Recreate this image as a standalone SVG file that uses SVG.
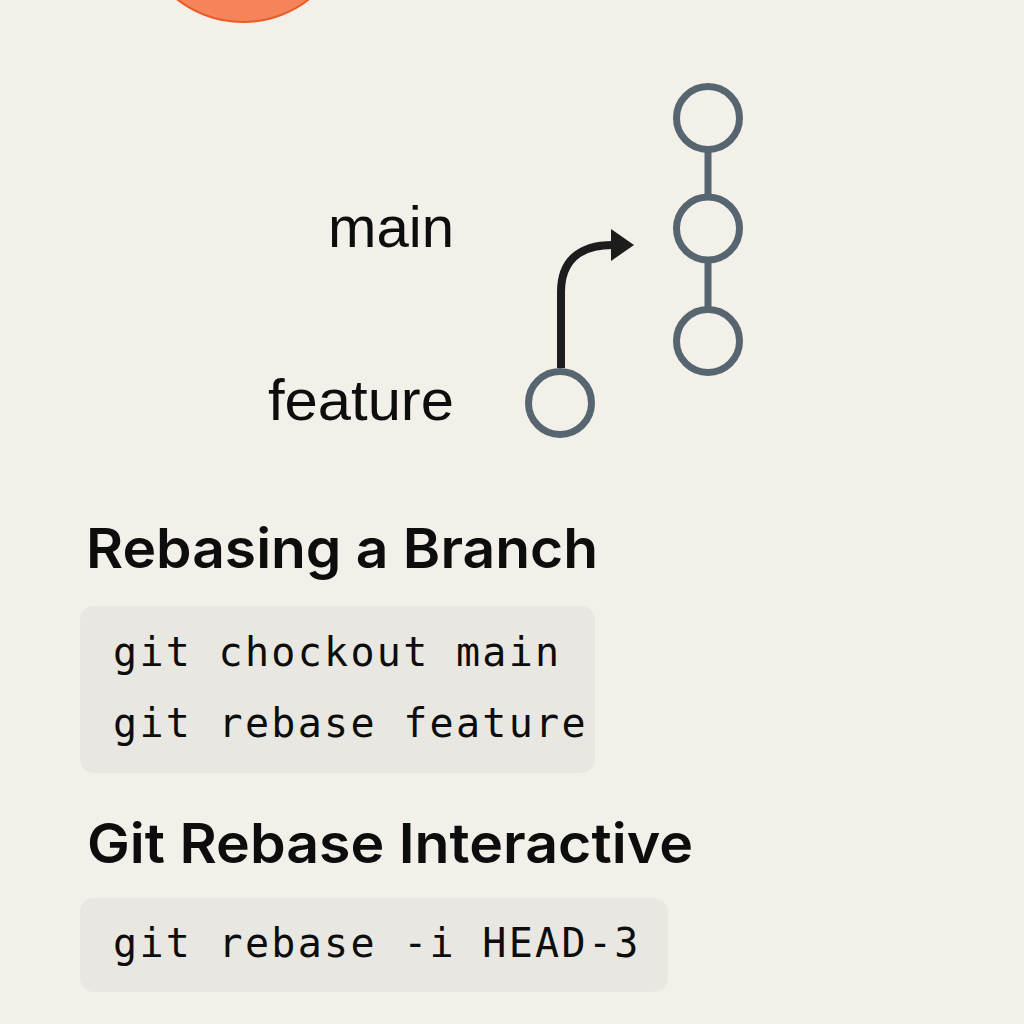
<svg xmlns="http://www.w3.org/2000/svg" width="1024" height="1024" viewBox="0 0 1024 1024">
<defs>
<style>
.bg{fill:#f3f0ea}
.commit{fill:none;stroke:#56656f;stroke-width:7}
.link{stroke:#56656f;stroke-width:7;fill:none}
.arrow{stroke:#1c1c1c;stroke-width:8;fill:none}
.head{fill:#1c1c1c}
.label{font-family:"Liberation Sans","Helvetica",Arial,sans-serif;font-size:57px;fill:#0d0d0d}
.title{font-family:"Inter","Liberation Sans",Arial,sans-serif;font-size:55px;font-weight:600;fill:#0d0d0d}
.box{fill:#e9e7e1}
.code{font-family:"DejaVu Sans Mono","Liberation Mono",monospace;font-size:40px;fill:#0d0d0d;letter-spacing:2.3px}
</style>
</defs>
<rect class="bg" x="0" y="0" width="1024" height="1024"/>
<g id="sun">
<circle cx="243" cy="-85" r="107" fill="#f5845a" stroke="#ec5a26" stroke-width="2"/>
</g>
<g id="connectors">
<line class="link" x1="708" y1="152" x2="708" y2="195"/>
<line class="link" x1="708" y1="262" x2="708" y2="307"/>
<path class="arrow" d="M561,368 L561,292 C561,262 578,245 613,245"/>
<polygon class="head" points="611,229 634,245 611,261"/>
</g>
<g id="commit-main-1"><circle class="commit" cx="708" cy="118" r="31.5"/></g>
<g id="commit-main-2"><circle class="commit" cx="708" cy="228.5" r="31.5"/></g>
<g id="commit-main-3"><circle class="commit" cx="708" cy="341" r="31.5"/></g>
<g id="commit-feature"><circle class="commit" cx="560" cy="403" r="31.5"/></g>
<g id="label-main"><text class="label" x="328" y="247" textLength="126" lengthAdjust="spacingAndGlyphs">main</text></g>
<g id="label-feature"><text class="label" x="268" y="420" textLength="186" lengthAdjust="spacingAndGlyphs">feature</text></g>
<g id="title-rebasing"><text class="title" x="86" y="568" textLength="512" lengthAdjust="spacingAndGlyphs">Rebasing a Branch</text></g>
<g id="code-1">
<rect class="box" x="80" y="606" width="515" height="167" rx="14"/>
<text class="code" x="113" y="666">git chockout main</text>
<text class="code" x="113" y="737">git rebase feature</text>
</g>
<g id="title-interactive"><text class="title" x="87" y="863" textLength="606" lengthAdjust="spacingAndGlyphs">Git Rebase Interactive</text></g>
<g id="code-2">
<rect class="box" x="80" y="898" width="588" height="94" rx="14"/>
<text class="code" x="113" y="957">git rebase -i HEAD-3</text>
</g>
</svg>
